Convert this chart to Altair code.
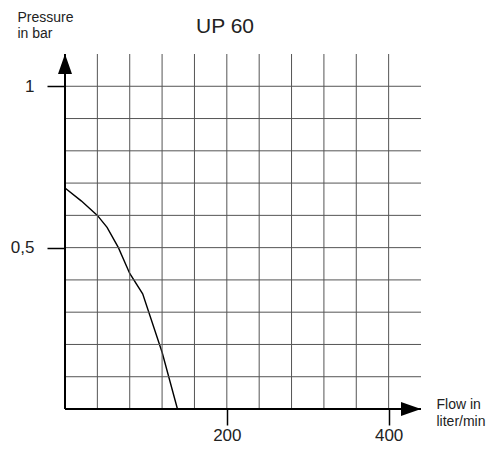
import altair as alt
import pandas as pd

# ---- data ----
flow = [0, 20, 40, 52, 66, 80, 96, 120, 139]
pressure = [0.685, 0.645, 0.60, 0.563, 0.50, 0.42, 0.357, 0.176, 0.0]
x_grid = [40, 80, 120, 160, 200, 240, 280, 320, 360, 400]
y_grid = [0.1, 0.2, 0.3, 0.4, 0.5, 0.6, 0.7, 0.8, 0.9, 1.0]
x_ticks = [200, 400]
y_ticks = [0.5, 1]
x_max = 440
y_max = 1.1
chart_title = "UP 60"

FONT = "Liberation Sans"

xs = alt.Scale(domain=[0, x_max], nice=False, zero=False)
ys = alt.Scale(domain=[0, y_max], nice=False, zero=False)

curve_df = pd.DataFrame({"flow": flow, "pressure": pressure})

curve = alt.Chart(curve_df).mark_line(color="black", strokeWidth=1.4).encode(
    x=alt.X("flow:Q", scale=xs, axis=alt.Axis(
        values=x_ticks, grid=False, domain=False, tickSize=16, tickColor="black",
        tickWidth=1.5, labelFontSize=17, labelPadding=2, labelColor="#222", labelFont=FONT,
        title=["Flow in", "liter/min"], titleAngle=0, titleAlign="left",
        titleBaseline="alphabetic", titleX=371, titleY=-1, titleFontSize=14,
        titleFontWeight="normal", titleLineHeight=17, titleColor="#222", titleFont=FONT)),
    y=alt.Y("pressure:Q", scale=ys, axis=alt.Axis(
        values=y_ticks, grid=False, domain=False, tickSize=18, tickColor="black",
        tickWidth=1.5, labelFontSize=17, labelPadding=13, labelColor="#222", labelFont=FONT,
        labelExpr="replace(format(datum.value, '~g'), '.', ',')",
        title=["Pressure", "in bar"], titleAngle=0, titleAlign="left",
        titleBaseline="alphabetic", titleX=-48, titleY=-33, titleFontSize=14,
        titleFontWeight="normal", titleLineHeight=16, titleColor="#222", titleFont=FONT)),
)

vgrid_df = pd.DataFrame({"flow": x_grid, "pressure": [0] * len(x_grid), "p1": [y_max] * len(x_grid)})
vgrid = alt.Chart(vgrid_df).mark_rule(color="#555", strokeWidth=1).encode(
    x=alt.X("flow:Q", scale=xs),
    y=alt.Y("pressure:Q", scale=ys),
    y2="p1:Q",
)

hgrid_df = pd.DataFrame({"pressure": y_grid, "flow": [0] * len(y_grid), "f1": [x_max] * len(y_grid)})
hgrid = alt.Chart(hgrid_df).mark_rule(color="#555", strokeWidth=1).encode(
    y=alt.Y("pressure:Q", scale=ys),
    x=alt.X("flow:Q", scale=xs),
    x2="f1:Q",
)

yaxis_line = alt.Chart(pd.DataFrame({"flow": [0], "pressure": [0], "p1": [y_max]})).mark_rule(
    color="black", strokeWidth=2).encode(
    x=alt.X("flow:Q", scale=xs),
    y=alt.Y("pressure:Q", scale=ys),
    y2="p1:Q",
)
xaxis_line = alt.Chart(pd.DataFrame({"pressure": [0], "flow": [0], "f1": [x_max]})).mark_rule(
    color="black", strokeWidth=2).encode(
    y=alt.Y("pressure:Q", scale=ys),
    x=alt.X("flow:Q", scale=xs),
    x2="f1:Q",
)

up_arrow = alt.Chart(pd.DataFrame({"flow": [0], "pressure": [y_max]})).mark_point(
    shape="M0,0L0.7,2L-0.7,2Z", size=400, filled=True, color="black", opacity=1).encode(
    x=alt.X("flow:Q", scale=xs),
    y=alt.Y("pressure:Q", scale=ys),
)
right_arrow = alt.Chart(pd.DataFrame({"flow": [x_max], "pressure": [0]})).mark_point(
    shape="M0,0L-2,-0.7L-2,0.7Z", size=400, filled=True, color="black", opacity=1).encode(
    x=alt.X("flow:Q", scale=xs),
    y=alt.Y("pressure:Q", scale=ys),
)

title_text = alt.Chart(pd.DataFrame({"t": [chart_title]})).mark_text(
    font=FONT, fontSize=21, color="#222", align="center", baseline="alphabetic").encode(
    text="t:N", x=alt.value(160), y=alt.value(-21))

chart = alt.layer(curve, vgrid, hgrid, yaxis_line, xaxis_line, up_arrow, right_arrow, title_text).properties(
    width=356,
    height=355,
    autosize=alt.AutoSizeParams(type="none"),
    padding={"left": 57, "top": 46, "right": 65, "bottom": 36},
    background="white",
).configure_view(stroke=None)

chart.save("out.html", embed_options={"renderer": "svg", "actions": False})
